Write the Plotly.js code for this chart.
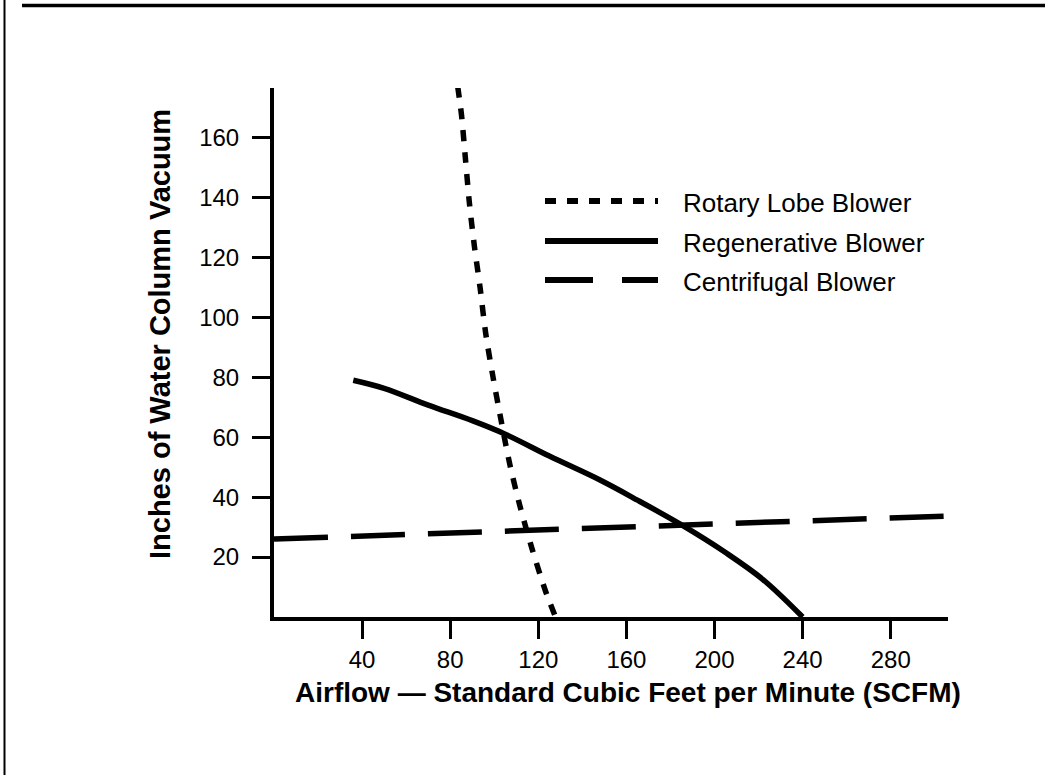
<!DOCTYPE html>
<html>
<head>
<meta charset="utf-8">
<script src="https://cdn.plot.ly/plotly-3.0.1.min.js"></script>
<style>
html, body { margin: 0; padding: 0; background: #ffffff; }
#chart { width: 1045px; height: 775px; }
</style>
</head>
<body>
<div id="chart"></div>
<script>
// ---- Data ----
const seriesNames = ["Rotary Lobe Blower", "Regenerative Blower", "Centrifugal Blower"];

const rotaryX = [83.4, 85.1, 86.9, 88.7, 91.0, 93.6, 96.1, 99.4, 103.2, 107.1, 111.7, 117.3, 123.3, 127.8];
const rotaryY = [177, 167.7, 153, 138.2, 123.6, 109.7, 94.7, 80.2, 65.2, 50.8, 36.9, 22.4, 8.6, 0];

const regenX = [36, 50, 70, 90, 105, 125, 148, 165, 186, 205, 222, 240];
const regenY = [79, 76.3, 70.7, 65.5, 61, 53.7, 45.7, 39, 30.3, 21.5, 12.5, 0];

const centriX = [0, 130, 306];
const centriY = [26, 29.1, 33.7];

const xTickVals = [40, 80, 120, 160, 200, 240, 280];
const yTickVals = [20, 40, 60, 80, 100, 120, 140, 160];

const xTitleText = "Airflow — Standard Cubic Feet per Minute (SCFM)";
const yTitleText = "Inches of Water Column Vacuum";

// ---- Layout geometry (pixels) ----
const W = 1045, H = 775;
const L = 274, R = 948, T = 88, B = 617;
const px = v => (v - L) / (R - L);
const py = v => (B - v) / (B - T);

const FONT = "Liberation Sans, Arial, Helvetica, sans-serif";
const styles = {
  rotary: { color: "#000", width: 5.5, dash: "11px,11px" },
  regen:  { color: "#000", width: 5.5, dash: "solid" },
  centri: { color: "#000", width: 5.5, dash: "54px,23px" }
};

const traces = [
  { x: rotaryX, y: rotaryY, name: seriesNames[0], mode: "lines", line: Object.assign({ shape: "spline", smoothing: 0.8 }, styles.rotary) },
  { x: regenX,  y: regenY,  name: seriesNames[1], mode: "lines", line: Object.assign({ shape: "spline", smoothing: 1.0 }, styles.regen) },
  { x: centriX, y: centriY, name: seriesNames[2], mode: "lines", line: styles.centri }
];

// Legend drawn manually (long sample lines as in the reference)
const legRows = [
  { y: 201, dash: "11px,11px" },
  { y: 241, dash: "solid" },
  { y: 280, dash: "48px,29px" }
];
const shapes = [];
const annotations = [];
legRows.forEach((r, i) => {
  shapes.push({ type: "line", xref: "paper", yref: "paper", x0: px(545), x1: px(658), y0: py(r.y), y1: py(r.y),
    line: { color: "#000", width: 6, dash: r.dash } });
  annotations.push({ xref: "paper", yref: "paper", x: px(681), y: py(r.y + 2), xanchor: "left", yanchor: "middle",
    text: seriesNames[i], showarrow: false, font: { family: FONT, size: 26, color: "#000" } });
});

// Page frame lines
shapes.push({ type: "line", xref: "paper", yref: "paper", x0: px(22), x1: px(1045), y0: py(5.5), y1: py(5.5),
  line: { color: "#000", width: 3.5 } });
shapes.push({ type: "line", xref: "paper", yref: "paper", x0: px(4.5), x1: px(4.5), y0: py(0), y1: py(775),
  line: { color: "#000", width: 2 } });

// Axis titles
annotations.push({ xref: "paper", yref: "paper", x: px(628), y: py(692), xanchor: "center", yanchor: "middle",
  text: "<b>" + xTitleText + "</b>", showarrow: false, font: { family: FONT, size: 28, color: "#000" } });
annotations.push({ xref: "paper", yref: "paper", x: px(160), y: py(334), xanchor: "center", yanchor: "middle", textangle: -90,
  text: "<b>" + yTitleText + "</b>", showarrow: false, font: { family: FONT, size: 29, color: "#000" } });

const layout = {
  width: W, height: H,
  margin: { l: L, r: W - R, t: T, b: H - B, pad: 0 },
  paper_bgcolor: "#fff", plot_bgcolor: "#fff",
  showlegend: false,
  font: { family: FONT, color: "#000" },
  xaxis: {
    range: [0, 306], tickvals: xTickVals, ticktext: xTickVals.map(String),
    showgrid: false, zeroline: false, showline: true, linecolor: "#000", linewidth: 4,
    ticks: "outside", ticklen: 18, tickwidth: 3, tickcolor: "#000",
    tickfont: { family: FONT, size: 24, color: "#000" }, ticklabelstandoff: 0
  },
  yaxis: {
    range: [0, 176.5], tickvals: yTickVals, ticktext: yTickVals.map(String),
    showgrid: false, zeroline: false, showline: true, linecolor: "#000", linewidth: 4,
    ticks: "outside", ticklen: 18, tickwidth: 3, tickcolor: "#000",
    tickfont: { family: FONT, size: 24, color: "#000" }, ticklabelstandoff: 8
  },
  shapes: shapes,
  annotations: annotations
};

Plotly.newPlot("chart", traces, layout, { staticPlot: true, displayModeBar: false });
</script>
</body>
</html>
